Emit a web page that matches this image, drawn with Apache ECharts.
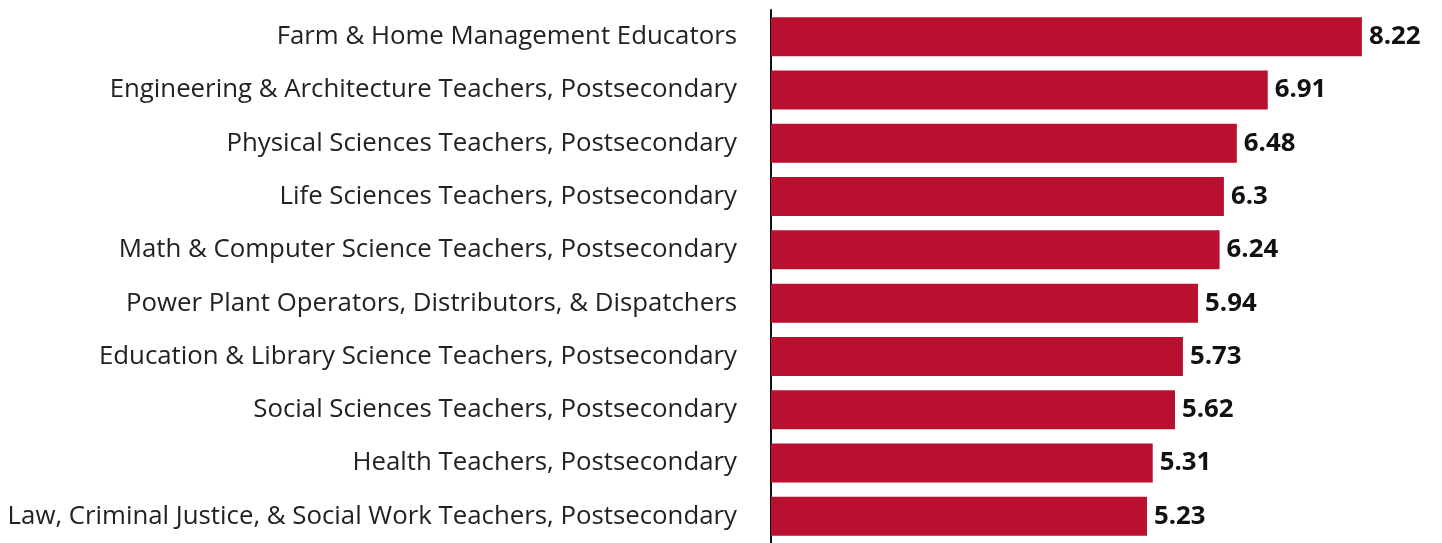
<!DOCTYPE html>
<html>
<head>
<meta charset="utf-8">
<script src="https://cdn.jsdelivr.net/npm/echarts@6/dist/echarts.min.js"></script>
<style>
  html, body { margin: 0; padding: 0; background: #fff; }
  #chart { width: 1442px; height: 543px; }
</style>
</head>
<body>
<div id="chart"></div>
<script>
// categories top to bottom
const occupations = [
  'Farm & Home Management Educators',
  'Engineering & Architecture Teachers, Postsecondary',
  'Physical Sciences Teachers, Postsecondary',
  'Life Sciences Teachers, Postsecondary',
  'Math & Computer Science Teachers, Postsecondary',
  'Power Plant Operators, Distributors, & Dispatchers',
  'Education & Library Science Teachers, Postsecondary',
  'Social Sciences Teachers, Postsecondary',
  'Health Teachers, Postsecondary',
  'Law, Criminal Justice, & Social Work Teachers, Postsecondary'
]
const values = [8.22, 6.91, 6.48, 6.3, 6.24, 5.94, 5.73, 5.62, 5.31, 5.23]

let chart = echarts.init(document.getElementById('chart'))
let option = {
  animation: false,
  textStyle: { fontFamily: 'Open Sans' },
  grid: {
    left: 771,
    right: 24,
    top: 10,
    bottom: 0
  },
  xAxis: {
    type: 'value',
    min: 0,
    max: 9,
    show: false
  },
  yAxis: {
    type: 'category',
    inverse: true,
    data: occupations,
    axisLine: { show: true, lineStyle: { color: '#111', width: 2 } },
    axisTick: { show: false },
    axisLabel: {
      margin: 34,
      fontSize: 25.8,
      color: '#222',
      fontFamily: 'Open Sans'
    }
  },
  series: [
    {
      type: 'bar',
      data: values,
      barWidth: 39,
      itemStyle: { color: '#BA1030' },
      label: {
        show: true,
        position: 'right',
        distance: 7,
        fontSize: 25.8,
        fontWeight: 'bold',
        color: '#111',
        fontFamily: 'Open Sans'
      }
    }
  ]
}
chart.setOption(option)
</script>
</body>
</html>
